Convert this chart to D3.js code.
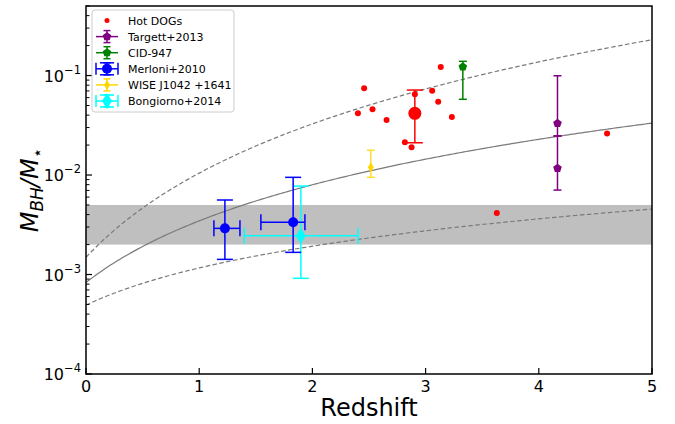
<!DOCTYPE html>
<html>
<head>
<meta charset="utf-8">
<script src="https://cdn.jsdelivr.net/npm/d3@7"></script>
<style>
  body { margin: 0; background: #fff; }
  svg { font-family: "DejaVu Sans", sans-serif; }
</style>
</head>
<body>
<svg id="chart" width="675" height="424"></svg>
<script>
// Hot DOGs (small red dots)
const hotZ = [2.457, 2.402, 2.531, 2.655, 2.905, 3.058, 3.134, 3.111, 3.232, 2.817, 2.876, 3.629, 4.603];
const hotR = [0.0744, 0.0417, 0.0457, 0.0357, 0.0647, 0.0703, 0.1217, 0.0546, 0.0383, 0.0213, 0.0190, 0.00415, 0.0262];

// Hot DOG average (big red point)
const meanZ = [2.905];
const meanR = [0.0417];
const meanLo = [0.0211];
const meanHi = [0.0715];

// Targett+2013
const targZ = [4.165, 4.165];
const targR = [0.0331, 0.0117];
const targLo = [0.0247, 0.00706];
const targHi = [0.0995, 0.0247];

// CID-947
const cidZ = [3.329];
const cidR = [0.1225];
const cidLo = [0.0577];
const cidHi = [0.139];

// Merloni+2010
const merZ = [1.227, 1.830];
const merR = [0.00291, 0.00335];
const merZlo = [1.130, 1.545];
const merZhi = [1.360, 1.934];
const merLo = [0.00142, 0.00167];
const merHi = [0.00561, 0.00948];

// WISE J1042 +1641
const wiseZ = [2.516];
const wiseR = [0.0120];
const wiseLo = [0.0095];
const wiseHi = [0.0178];

// Bongiorno+2014
const bonZ = [1.898];
const bonR = [0.00245];
const bonZlo = [1.398];
const bonZhi = [2.404];
const bonLo = [0.000916];
const bonHi = [0.00774];

// local relation band
const bandLo = [0.002];
const bandHi = [0.005];

// model curves ratio = norm * (1+z)^slope
const curveNorm = [8.3e-4, 1.49e-3, 4.93e-4];
const curveSlope = [2.06, 2.81, 1.24];

const xTicks = [0, 1, 2, 3, 4, 5];
const yExp = [-4, -3, -2, -1];

const legendNames = ["Hot DOGs", "Targett+2013", "CID-947", "Merloni+2010", "WISE J1042 +1641", "Bongiorno+2014"];

const svg = d3.select("#chart");
const L = 86, R = 652, T = 6, B = 374;

const x = d3.scaleLinear().domain([0, 5]).range([L, R]);
const y = d3.scaleLog().domain([1e-4, 0.5]).range([B, T]);

const plot = svg.append("g");
svg.append("clipPath").attr("id", "clip").append("rect")
  .attr("x", L).attr("y", T).attr("width", R - L).attr("height", B - T);
plot.attr("clip-path", "url(#clip)");

// band
plot.append("rect")
  .attr("x", L).attr("width", R - L)
  .attr("y", y(bandHi[0])).attr("height", y(bandLo[0]) - y(bandHi[0]))
  .attr("fill", "#bfbfbf");

// curves
const zs = d3.range(0, 5.001, 0.02);
const line = d3.line().x(d => x(d[0])).y(d => y(d[1]));
curveNorm.forEach((n, i) => {
  plot.append("path")
    .attr("d", line(zs.map(z => [z, n * Math.pow(1 + z, curveSlope[i])])))
    .attr("fill", "none")
    .attr("stroke", "#7a7a7a")
    .attr("stroke-width", 1.2)
    .attr("stroke-dasharray", i == 0 ? null : "4.5,2.5");
});

// error bar helpers
function errY(g, zx, lo, hi, col, cap, w) {
  g.append("line").attr("x1", x(zx)).attr("x2", x(zx)).attr("y1", y(lo)).attr("y2", y(hi))
    .attr("stroke", col).attr("stroke-width", w);
  [lo, hi].forEach(v => g.append("line")
    .attr("x1", x(zx) - cap).attr("x2", x(zx) + cap).attr("y1", y(v)).attr("y2", y(v))
    .attr("stroke", col).attr("stroke-width", w));
}
function errX(g, r, lo, hi, col, cap, w) {
  g.append("line").attr("x1", x(lo)).attr("x2", x(hi)).attr("y1", y(r)).attr("y2", y(r))
    .attr("stroke", col).attr("stroke-width", w);
  [lo, hi].forEach(v => g.append("line")
    .attr("x1", x(v)).attr("x2", x(v)).attr("y1", y(r) - cap).attr("y2", y(r) + cap)
    .attr("stroke", col).attr("stroke-width", w));
}
const pentagon = r => d3.range(5).map(k => {
  const a = -Math.PI / 2 + k * 2 * Math.PI / 5;
  return [r * Math.cos(a), r * Math.sin(a)];
});
const pentPath = r => "M" + pentagon(r).join("L") + "Z";

// Bongiorno
bonZ.forEach((z, i) => {
  errX(plot, bonR[i], bonZlo[i], bonZhi[i], "cyan", 8, 1.5);
  errY(plot, z, bonLo[i], bonHi[i], "cyan", 8, 1.5);
  plot.append("path").attr("transform", `translate(${x(z)},${y(bonR[i])})`)
    .attr("d", "M0,-8L5,0L0,8L-5,0Z").attr("fill", "cyan");
});

// Merloni
merZ.forEach((z, i) => {
  errX(plot, merR[i], merZlo[i], merZhi[i], "blue", 8, 1.5);
  errY(plot, z, merLo[i], merHi[i], "blue", 8, 1.5);
  plot.append("circle").attr("cx", x(z)).attr("cy", y(merR[i])).attr("r", 5).attr("fill", "blue");
});

// WISE
wiseZ.forEach((z, i) => {
  errY(plot, z, wiseLo[i], wiseHi[i], "gold", 4, 1.2);
  plot.append("path").attr("transform", `translate(${x(z)},${y(wiseR[i])})`)
    .attr("d", "M0,-5L3,0L0,5L-3,0Z").attr("fill", "gold");
});

// CID-947
cidZ.forEach((z, i) => {
  errY(plot, z, cidLo[i], cidHi[i], "green", 4, 1.5);
  plot.append("path").attr("transform", `translate(${x(z)},${y(cidR[i])})`)
    .attr("d", pentPath(4.5)).attr("fill", "green");
});

// Targett
targZ.forEach((z, i) => {
  errY(plot, z, targLo[i], targHi[i], "purple", 4, 1.5);
  plot.append("path").attr("transform", `translate(${x(z)},${y(targR[i])})`)
    .attr("d", pentPath(4.5)).attr("fill", "purple");
});

// Hot DOGs
plot.selectAll(".hd").data(hotZ).enter().append("circle")
  .attr("cx", d => x(d)).attr("cy", (d, i) => y(hotR[i])).attr("r", 3).attr("fill", "red");

meanZ.forEach((z, i) => {
  errY(plot, z, meanLo[i], meanHi[i], "red", 8, 1.5);
  plot.append("circle").attr("cx", x(z)).attr("cy", y(meanR[i])).attr("r", 6.5).attr("fill", "red");
});

// axes
const axis = svg.append("g");
axis.append("rect").attr("x", L).attr("y", T).attr("width", R - L).attr("height", B - T)
  .attr("fill", "none").attr("stroke", "#000").attr("stroke-width", 1.5);

xTicks.forEach(t => {
  axis.append("line").attr("x1", x(t)).attr("x2", x(t)).attr("y1", B).attr("y2", B - 6)
    .attr("stroke", "#000").attr("stroke-width", 1.2);
  axis.append("text").attr("x", x(t)).attr("y", B + 18).attr("text-anchor", "middle")
    .attr("font-size", 16).text(t);
});

yExp.forEach(e => {
  const v = Math.pow(10, e);
  axis.append("line").attr("x1", L).attr("x2", L + 6).attr("y1", y(v)).attr("y2", y(v))
    .attr("stroke", "#000").attr("stroke-width", 1.2);
  const t = axis.append("text").attr("x", L - 5).attr("y", y(v) + 6).attr("text-anchor", "end")
    .attr("font-size", 16);
  t.append("tspan").text("10");
  t.append("tspan").attr("dy", -8).attr("font-size", 11.5).text("\u2212" + Math.abs(e));
  for (let k = 2; k <= 9; k++) {
    const m = k * v;
    if (m > 0.5) break;
    axis.append("line").attr("x1", L).attr("x2", L + 3.5).attr("y1", y(m)).attr("y2", y(m))
      .attr("stroke", "#000").attr("stroke-width", 1);
  }
});

svg.append("text").attr("x", (L + R) / 2).attr("y", 416).attr("text-anchor", "middle")
  .attr("font-size", 24).text("Redshift");

const yl = svg.append("text").attr("transform", `translate(38,${(T + B) / 2}) rotate(-90)`)
  .attr("text-anchor", "middle").attr("font-size", 24);
yl.append("tspan").attr("font-style", "italic").text("M");
yl.append("tspan").attr("font-style", "italic").attr("font-size", 17).attr("dy", 5).text("BH");
yl.append("tspan").attr("font-style", "italic").attr("dy", -5).text("/M");
yl.append("tspan").attr("font-size", 17).attr("dy", 5).text("\u22c6");

// legend
const lg = svg.append("g");
lg.append("rect").attr("x", 92).attr("y", 10).attr("width", 142).attr("height", 102).attr("rx", 3)
  .attr("fill", "#fff").attr("fill-opacity", 0.8).attr("stroke", "#ccc");
const lcol = ["red", "purple", "green", "blue", "gold", "cyan"];
legendNames.forEach((nm, i) => {
  const cy = 20.5 + i * 16.1, cx = 107;
  if (i == 0) {
    lg.append("circle").attr("cx", cx).attr("cy", cy).attr("r", 2.5).attr("fill", "red");
  } else {
    const c = lcol[i];
    lg.append("line").attr("x1", cx - 11).attr("x2", cx + 11).attr("y1", cy).attr("y2", cy)
      .attr("stroke", c).attr("stroke-width", 1.5);
    lg.append("line").attr("x1", cx).attr("x2", cx).attr("y1", cy - 6).attr("y2", cy + 6)
      .attr("stroke", c).attr("stroke-width", 1.5);
    [-6, 6].forEach(d => lg.append("line").attr("x1", cx - 3.5).attr("x2", cx + 3.5)
      .attr("y1", cy + d).attr("y2", cy + d).attr("stroke", c).attr("stroke-width", 1.5));
    if (i == 3 || i == 5) {
      [-11, 11].forEach(d => lg.append("line").attr("x1", cx + d).attr("x2", cx + d)
        .attr("y1", cy - 6).attr("y2", cy + 6).attr("stroke", c).attr("stroke-width", 1.5));
      [-6, 6].forEach(d => lg.append("line").attr("x1", cx - 7).attr("x2", cx + 7)
        .attr("y1", cy + d).attr("y2", cy + d).attr("stroke", c).attr("stroke-width", 1.5));
    }
    if (i == 4) {
      lg.append("path").attr("transform", `translate(${cx},${cy})`)
        .attr("d", "M0,-5L3,0L0,5L-3,0Z").attr("fill", c);
    } else if (i == 5) {
      lg.append("path").attr("transform", `translate(${cx},${cy})`)
        .attr("d", "M0,-8L5,0L0,8L-5,0Z").attr("fill", c);
    } else if (i == 3) {
      lg.append("circle").attr("cx", cx).attr("cy", cy).attr("r", 5).attr("fill", c);
    } else {
      lg.append("path").attr("transform", `translate(${cx},${cy})`)
        .attr("d", pentPath(4.5)).attr("fill", c);
    }
  }
  lg.append("text").attr("x", 128).attr("y", cy + 4).attr("font-size", 11).text(nm);
});
</script>
</body>
</html>
